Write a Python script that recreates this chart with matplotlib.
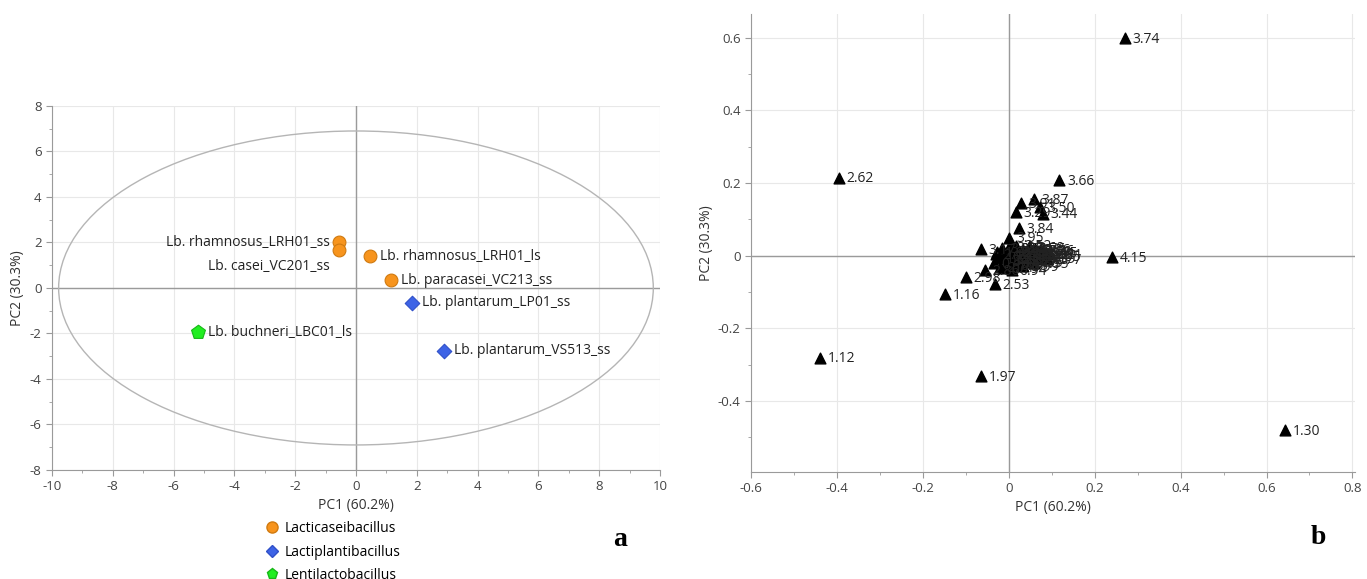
import numpy as np
import matplotlib
matplotlib.use("Agg")
from matplotlib import pyplot as plt
from matplotlib.patches import Ellipse
from matplotlib.lines import Line2D
from matplotlib.ticker import MultipleLocator

plt.rcParams['font.family'] = ['Open Sans', 'DejaVu Sans']
plt.rcParams['axes.unicode_minus'] = False

# ---- panel a: scores ----
strains = ["Lb. rhamnosus_LRH01_ss", "Lb. casei_VC201_ss", "Lb. rhamnosus_LRH01_ls",
           "Lb. paracasei_VC213_ss", "Lb. plantarum_LP01_ss", "Lb. plantarum_VS513_ss",
           "Lb. buchneri_LBC01_ls"]
pc1_a = [-0.55, -0.55, 0.45, 1.15, 1.85, 2.9, -5.2]
pc2_a = [2.0, 1.65, 1.4, 0.35, -0.65, -2.75, -1.95]
genus = ["Lacticaseibacillus", "Lacticaseibacillus", "Lacticaseibacillus",
         "Lacticaseibacillus", "Lactiplantibacillus", "Lactiplantibacillus",
         "Lentilactobacillus"]
# label offsets (pixels) and alignment
lab_off = [(-9, 0), (-9, -16), (10, 0), (10, 0), (10, 0), (10, 0), (10, 0)]
lab_ha = ["right", "right", "left", "left", "left", "left", "left"]

genus_style = {
    "Lacticaseibacillus": dict(marker="o", color="#F7941D", edge="#D07A10", s=85),
    "Lactiplantibacillus": dict(marker="D", color="#3D63E6", edge="#3050C8", s=55),
    "Lentilactobacillus": dict(marker="p", color="#22EE22", edge="#18B818", s=110),
}

# ---- panel b: loadings ----
load_lab = ["3.74", "2.62", "3.66", "4.15", "1.16", "2.53", "1.12", "1.97", "1.30",
            "3.84", "3.95", "3.87", "3.29", "3.91", "3.50", "3.44", "3.17", "2.98",
            "2.86", "3.21", "0.94"]
load_x = [0.27, -0.395, 0.118, 0.24, -0.148, -0.032, -0.439, -0.065, 0.644,
          0.023, 0.0, 0.058, 0.016, 0.028, 0.072, 0.079, -0.065, -0.1,
          -0.055, 0.09, 0.007]
load_y = [0.6, 0.215, 0.207, -0.003, -0.105, -0.077, -0.28, -0.33, -0.48,
          0.075, 0.05, 0.155, 0.119, 0.146, 0.133, 0.116, 0.019, -0.058,
          -0.04, 0.005, -0.04]

# dense group near the origin
clus_x = [-0.035, -0.028, -0.02, -0.015, -0.01, -0.005, 0.0, 0.004, 0.008, 0.012,
          0.016, 0.02, 0.024, 0.028, 0.032, 0.036, 0.04, 0.045, 0.05, 0.055,
          0.06, 0.065, 0.07, 0.075, 0.08, 0.085, -0.025, -0.012, 0.002, 0.018,
          0.034, 0.048, 0.062, 0.01, 0.026, 0.042, -0.03, 0.058, 0.072, 0.088]
clus_y = [-0.02, 0.01, -0.03, 0.02, 0.0, -0.015, 0.025, 0.005, -0.025, 0.012,
          -0.008, 0.018, -0.02, 0.002, 0.015, -0.012, 0.008, -0.018, 0.02, 0.0,
          -0.01, 0.012, 0.004, -0.006, 0.01, 0.0, -0.005, -0.035, -0.01, 0.028,
          -0.028, 0.024, 0.018, 0.02, 0.01, -0.002, 0.005, -0.02, 0.015, -0.008]
clus_lab = ["0.45", "1.02", "2.71", "3.05", "0.63", "1.48", "3.33", "2.14", "0.88", "3.12",
            "1.85", "3.40", "0.71", "2.36", "3.58", "1.27", "2.92", "0.55", "3.76", "2.47",
            "1.63", "3.09", "2.68", "1.39", "3.15", "2.05", "1.74", "0.79", "2.21", "3.52",
            "0.99", "3.69", "3.26", "3.01", "2.84", "1.91", "2.40", "1.55", "3.36", "2.77"]

grid_c = "#e8e8e8"
axis_c = "#9a9a9a"
tick_c = "#444444"
fs_tick = 9.5
fs_lab = 10


def style_axes(ax):
    ax.grid(True, color=grid_c, lw=0.8, zorder=0)
    ax.axhline(0, color=axis_c, lw=1, zorder=1)
    ax.axvline(0, color=axis_c, lw=1, zorder=1)
    for s in ["top", "right"]:
        ax.spines[s].set_visible(False)
    for s in ["left", "bottom"]:
        ax.spines[s].set_color(axis_c)
    ax.tick_params(which="major", direction="out", length=4, color=axis_c,
                   labelcolor=tick_c, labelsize=fs_tick)
    ax.tick_params(which="minor", direction="out", length=2, color=axis_c)
    ax.set_axisbelow(True)


fig = plt.figure(figsize=(13.67, 5.79), dpi=100)

# panel a
ax1 = fig.add_axes([0.038, 0.1883, 0.4448, 0.6287])
style_axes(ax1)
ax1.set_xlim(-10, 10)
ax1.set_ylim(-8, 8)
ax1.xaxis.set_major_locator(MultipleLocator(2))
ax1.yaxis.set_major_locator(MultipleLocator(2))
ax1.xaxis.set_minor_locator(MultipleLocator(1))
ax1.yaxis.set_minor_locator(MultipleLocator(1))
ax1.add_patch(Ellipse((0, 0), 2 * 9.78, 2 * 6.9, fill=False, ec="#b5b5b5", lw=1, zorder=2))

for name, x, y, g, off, ha in zip(strains, pc1_a, pc2_a, genus, lab_off, lab_ha):
    st = genus_style[g]
    ax1.scatter(x, y, marker=st["marker"], s=st["s"], c=st["color"],
                edgecolors=st["edge"], linewidths=0.8, zorder=4)
    ax1.annotate(name, (x, y), xytext=(off[0] * 0.72, off[1] * 0.72),
                 textcoords="offset points", ha=ha, va="center",
                 fontsize=fs_lab, color="#222222", zorder=5)

ax1.set_xlabel("PC1 (60.2%)", fontsize=fs_lab, color="#333333", labelpad=3)
ax1.set_ylabel("PC2 (30.3%)", fontsize=fs_lab, color="#333333", labelpad=3)

handles = [Line2D([], [], ls="none", marker=genus_style[g]["marker"],
                  markerfacecolor=genus_style[g]["color"],
                  markeredgecolor=genus_style[g]["edge"],
                  markersize=8 if g != "Lactiplantibacillus" else 6.5, label=g)
           for g in genus_style]
fig.legend(handles=handles, loc="upper left", bbox_to_anchor=(265 / 1367, 1 - 521 / 579),
           frameon=False, fontsize=10, handlelength=1.0, handletextpad=0.4,
           labelspacing=0.62, borderpad=0, borderaxespad=0)

# panel b
ax2 = fig.add_axes([0.5494, 0.1848, 0.4415, 0.791])
style_axes(ax2)
ax2.set_xlim(-0.6, 0.805)
ax2.set_ylim(-0.595, 0.665)
ax2.xaxis.set_major_locator(MultipleLocator(0.2))
ax2.yaxis.set_major_locator(MultipleLocator(0.2))
ax2.xaxis.set_minor_locator(MultipleLocator(0.1))
ax2.yaxis.set_minor_locator(MultipleLocator(0.1))
ax2.xaxis.set_major_formatter(plt.FuncFormatter(lambda v, p: "0" if abs(v) < 1e-9 else f"{v:g}"))
ax2.yaxis.set_major_formatter(plt.FuncFormatter(lambda v, p: "0" if abs(v) < 1e-9 else f"{v:g}"))

all_x = load_x + clus_x
all_y = load_y + clus_y
all_lab = load_lab + clus_lab
ax2.scatter(all_x, all_y, marker="^", s=60, c="black", zorder=4)
for t, x, y in zip(all_lab, all_x, all_y):
    ax2.annotate(t, (x, y), xytext=(5.5, -1), textcoords="offset points",
                 ha="left", va="center", fontsize=fs_lab, color="#222222", zorder=5)

ax2.set_xlabel("PC1 (60.2%)", fontsize=fs_lab, color="#333333", labelpad=3)
ax2.set_ylabel("PC2 (30.3%)", fontsize=fs_lab, color="#333333", labelpad=3)

fig.text(620 / 1367, 1 - 540 / 579, "a", fontsize=20, fontweight="bold",
         family="Liberation Serif", ha="center", va="center")
fig.text(1318 / 1367, 1 - 537 / 579, "b", fontsize=20, fontweight="bold",
         family="Liberation Serif", ha="center", va="center")

fig.savefig("out.png", dpi=100)
